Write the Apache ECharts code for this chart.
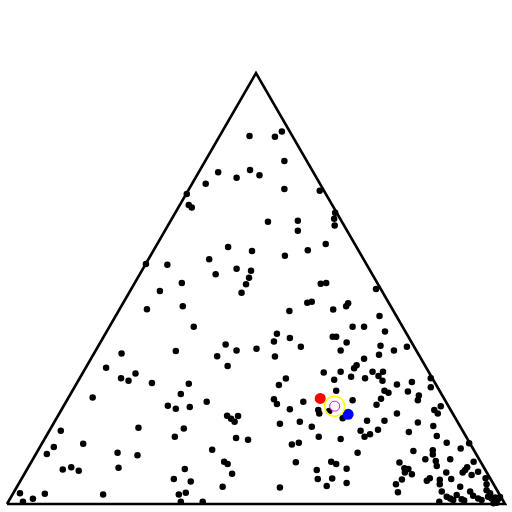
<!DOCTYPE html>
<html>
<head>
<meta charset="utf-8">
<script src="https://cdn.jsdelivr.net/npm/echarts@6/dist/echarts.min.js"></script>
<style>html,body{margin:0;padding:0;background:#fff}#c{width:512px;height:512px}</style>
</head>
<body>
<div id="c"></div>
<script>
// Triangle vertices in plot units (side = 100, height = 100 after equilateral scaling)
const triangle = [[0,0],[50,100],[100,0],[0,0]];
// Sample points [x, y] in plot units
const points = [
[48.7,85.4],[53.8,85.2],[55.2,86.4],[55.7,79.6],[42.4,77.0],[39.9,74.3],[46.1,75.7],[48.8,77.5],[50.7,76.3],[55.7,73.1],
[62.8,72.7],[36.1,71.9],[36.5,69.4],[37.1,68.8],[27.9,55.7],[32.2,55.5],[44.4,59.6],[49.2,58.7],[40.6,56.8],[46.1,54.6],
[49.0,54.1],[48.6,52.5],[41.9,53.3],[48.0,51.0],[47.1,49.0],[35.1,51.3],[30.7,49.4],[28.1,45.2],[35.3,45.9],[37.5,41.1],
[65.9,67.6],[65.7,66.2],[65.8,64.6],[52.4,65.5],[58.4,65.7],[58.4,63.4],[64.0,60.3],[60.4,58.9],[55.8,57.6],[63.0,51.1],
[64.1,51.3],[74.1,49.9],[60.3,46.7],[61.2,46.9],[68.5,46.6],[68.1,45.9],[56.7,44.8],[65.5,45.1],[74.8,43.6],[69.4,41.1],
[71.7,41.1],[75.9,40.0],[54.2,39.5],[56.8,38.5],[65.4,38.8],[66.1,38.8],[68.2,37.5],
[23.0,34.9],[19.9,31.6],[22.9,29.2],[24.4,28.6],[25.8,30.3],[17.2,24.7],[26.4,17.7],[10.8,17.0],[15.3,14.0],[9.4,13.2],
[8.0,11.6],[22.2,11.9],[26.2,11.3],[11.2,8.0],[12.9,8.5],[14.4,7.7],[22.4,8.4],[2.6,2.5],[3.2,0.5],[5.2,1.2],
[7.6,2.4],[19.3,2.2],
[43.9,37.0],[46.1,35.6],[50.1,36.0],[33.9,35.5],[42.2,34.3],[44.3,32.0],[29.1,28.1],[36.5,27.9],[34.9,25.5],[32.3,22.8],
[33.9,22.1],[36.7,22.5],[40.1,23.7],[44.2,20.5],[45.0,19.8],[45.7,19.1],[46.4,20.4],[35.5,17.5],[33.7,15.6],[46.0,15.3],
[48.4,14.9],[41.2,12.6],[43.6,9.8],[44.3,9.3],[45.2,7.0],[35.7,8.1],[33.5,5.8],[36.9,5.2],[43.3,4.0],[34.5,2.2],
[35.9,2.6],[34.9,0.5],[39.3,0.5],
[53.6,37.7],[59.0,36.5],[67.0,35.6],[75.0,36.7],[74.7,34.6],[77.7,35.6],[53.8,34.2],[71.7,33.7],[70.2,32.2],[69.7,31.5],
[63.6,30.5],[67.0,30.7],[73.4,30.7],[75.5,30.7],[74.6,29.7],[75.4,28.6],[69.1,29.5],[71.9,29.2],[65.7,28.8],[56.0,29.1],
[54.6,27.6],[78.3,27.7],[66.1,26.3],[75.8,26.3],[76.6,25.8],[53.6,24.3],[54.2,23.2],[59.5,23.7],[69.4,24.1],[75.1,24.4],
[74.2,23.0],[56.8,22.0],[62.5,21.8],[62.7,21.0],[64.7,21.6],[78.3,21.0],
[54.8,18.6],[58.8,19.1],[61.2,17.9],[67.4,19.9],[72.3,19.3],[75.8,19.3],[71.0,17.0],[72.9,16.2],[71.8,15.6],[74.5,17.2],
[62.6,15.6],[67.0,15.1],[57.2,13.8],[58.6,14.2],[70.4,11.9],[58.0,9.7],[65.1,9.8],[66.1,9.3],[62.2,7.9],[68.2,8.2],
[62.4,5.8],[65.3,5.9],[64.2,4.2],[68.2,4.9],[54.8,3.8],[78.1,4.6],[78.5,2.7],[78.8,9.6],
[80.3,36.5],[85.1,29.2],[85.1,27.1],[81.3,28.3],[80.5,26.1],[82.7,25.2],[82.5,24.1],[87.1,22.7],[85.8,21.8],[86.5,21.0],
[82.5,18.9],[85.6,18.1],[80.7,16.7],[86.3,15.8],[88.3,14.2],[92.8,14.1],[91.1,12.9],[81.6,12.3],[85.5,12.5],[85.5,11.5],
[84.0,10.4],[86.1,10.0],[86.3,8.8],[89.0,10.4],[93.7,9.8],[79.8,8.3],[80.6,8.1],[79.9,7.3],[81.3,6.9],[92.4,8.5],
[92.0,7.9],[91.5,7.3],[88.2,7.3],[93.3,6.7],[94.6,7.5],[79.3,5.7],[84.3,5.4],[84.9,6.0],[86.9,5.6],[86.9,4.6],
[89.2,5.8],[91.0,4.0],[96.1,6.0],[96.3,4.6],[87.3,2.9],[88.3,1.7],[89.0,1.3],[89.6,0.9],[90.3,2.1],[93.0,2.9],
[93.6,1.9],[94.6,1.3],[95.3,0.9],[96.3,3.2],[97.0,2.5],[96.6,1.7],[97.3,1.3],[98.0,1.5],[98.7,1.2],[99.0,1.6],
[98.3,0.3],[97.7,0.2],[91.3,1.1],[91.8,0.8],[86.8,0.5]
];
const redPoint = [[62.9,24.5]];
const bluePoint = [[68.5,20.8]];
const targetPoint = [[65.8,22.7]];

const chart = echarts.init(document.getElementById('c'), null, {renderer:'canvas'});
chart.setOption({
  animation:false,
  backgroundColor:'#ffffff',
  grid:{left:7,right:7,top:73,bottom:8},
  xAxis:{type:'value',min:0,max:100,show:false},
  yAxis:{type:'value',min:0,max:100,show:false},
  series:[
    {type:'line',data:triangle,symbol:'none',silent:true,clip:false,
     lineStyle:{color:'#000',width:2.6,join:'miter'},z:1},
    {type:'scatter',data:points,symbol:'circle',symbolSize:6.5,silent:true,clip:false,
     itemStyle:{color:'#000',opacity:1},z:2},
    {type:'scatter',data:redPoint,symbolSize:11,silent:true,clip:false,itemStyle:{color:'#ff0000',opacity:1},z:3},
    {type:'scatter',data:bluePoint,symbolSize:11,silent:true,clip:false,itemStyle:{color:'#0000ff',opacity:1},z:3},
    {type:'scatter',data:targetPoint,symbolSize:20,silent:true,clip:false,
     itemStyle:{color:'rgba(0,0,0,0)',borderColor:'#ffff00',borderWidth:1.5,opacity:1},z:4},
    {type:'scatter',data:targetPoint,symbolSize:10,silent:true,clip:false,
     itemStyle:{color:'#ffffff',borderColor:'#ff00ff',borderWidth:1,opacity:1},z:5}
  ]
});
</script>
</body>
</html>
